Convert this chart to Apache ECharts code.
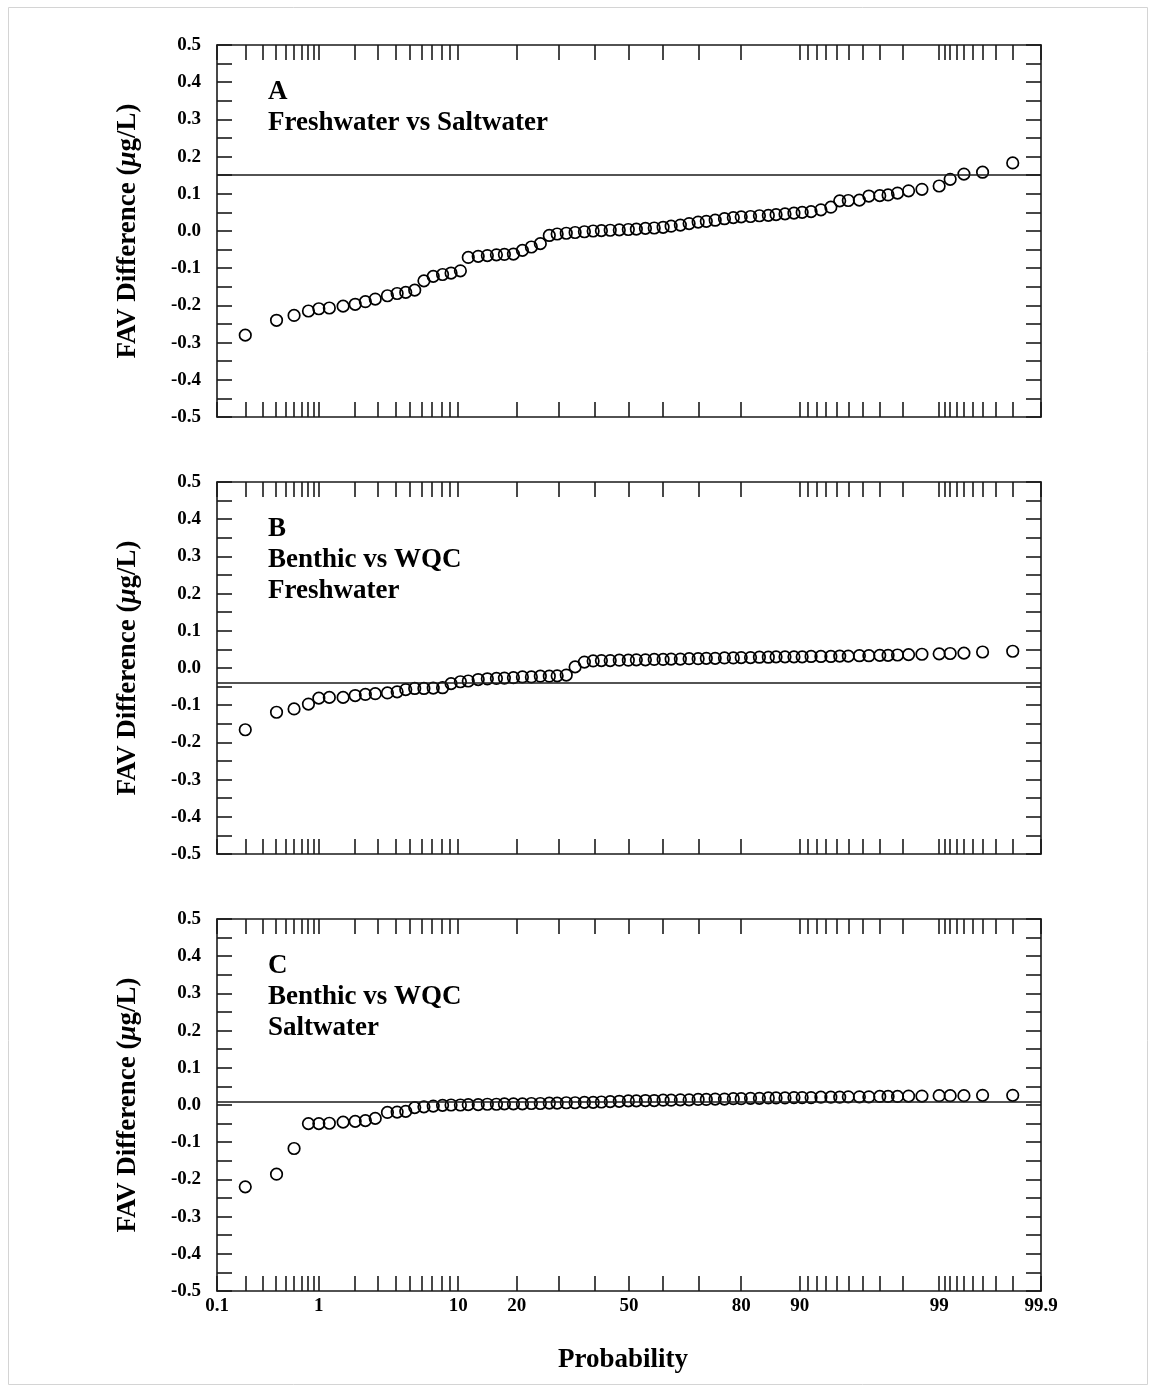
<!DOCTYPE html>
<html>
<head>
<meta charset="utf-8">
<script src="https://cdn.jsdelivr.net/npm/echarts@6/dist/echarts.min.js"></script>
<style>
html,body{margin:0;padding:0;background:#fff;}
#chart{width:1154px;height:1391px;}
</style>
</head>
<body>
<div id="chart"></div>
<script>
// ---- data ----
const probability = [0.20, 0.41, 0.60, 0.81, 1.0, 1.23, 1.6, 2.0, 2.4, 2.85,
  3.5, 4.1, 4.7, 5.4, 6.2, 7.1, 8.1, 9.1, 10.3, 11.4,
  12.9, 14.4, 16.0, 17.5, 19.3, 21.2, 23.2, 25.3, 27.5, 29.5,
  31.9, 34.3, 36.9, 39.4, 41.8, 44.4, 47.1, 49.8, 52.2, 54.9,
  57.5, 60.1, 62.4, 65.0, 67.4, 69.8, 71.9, 74.1, 76.3, 78.3,
  80.0, 81.9, 83.6, 85.2, 86.5, 87.9, 89.2, 90.3, 91.4, 92.5,
  93.5, 94.3, 95.0, 95.8, 96.4, 97.0, 97.4, 97.8, 98.2, 98.6,
  99.0, 99.2, 99.4, 99.6, 99.8];

const diffA = [-0.280, -0.240, -0.227, -0.215, -0.209, -0.207, -0.202, -0.197, -0.190, -0.183,
  -0.174, -0.168, -0.165, -0.159, -0.134, -0.122, -0.117, -0.113, -0.107, -0.071,
  -0.068, -0.066, -0.064, -0.063, -0.062, -0.052, -0.043, -0.034, -0.012, -0.008,
  -0.006, -0.004, -0.002, 0.000, 0.001, 0.002, 0.003, 0.004, 0.005, 0.007,
  0.008, 0.010, 0.013, 0.016, 0.020, 0.024, 0.026, 0.029, 0.033, 0.036,
  0.038, 0.039, 0.041, 0.042, 0.044, 0.046, 0.048, 0.050, 0.052, 0.057,
  0.064, 0.081, 0.082, 0.083, 0.094, 0.095, 0.097, 0.102, 0.108, 0.112,
  0.121, 0.139, 0.153, 0.158, 0.183];

const diffB = [-0.166, -0.119, -0.110, -0.097, -0.081, -0.079, -0.079, -0.074, -0.071, -0.069,
  -0.067, -0.064, -0.058, -0.055, -0.055, -0.054, -0.053, -0.042, -0.037, -0.035,
  -0.031, -0.029, -0.028, -0.027, -0.026, -0.024, -0.024, -0.022, -0.022, -0.021,
  -0.019, 0.003, 0.016, 0.019, 0.020, 0.020, 0.021, 0.021, 0.022, 0.022,
  0.023, 0.023, 0.024, 0.024, 0.025, 0.025, 0.026, 0.026, 0.027, 0.027,
  0.028, 0.028, 0.029, 0.029, 0.030, 0.030, 0.030, 0.030, 0.031, 0.031,
  0.031, 0.032, 0.032, 0.033, 0.033, 0.034, 0.034, 0.035, 0.036, 0.037,
  0.038, 0.039, 0.040, 0.043, 0.045];

const diffC = [-0.220, -0.186, -0.117, -0.050, -0.050, -0.049, -0.046, -0.044, -0.042, -0.036,
  -0.020, -0.019, -0.017, -0.007, -0.005, -0.003, -0.001, 0.000, 0.000, 0.001,
  0.001, 0.002, 0.002, 0.003, 0.003, 0.003, 0.004, 0.004, 0.005, 0.005,
  0.006, 0.006, 0.007, 0.007, 0.008, 0.009, 0.010, 0.011, 0.011, 0.012,
  0.012, 0.013, 0.013, 0.014, 0.014, 0.015, 0.015, 0.016, 0.016, 0.017,
  0.017, 0.018, 0.018, 0.019, 0.019, 0.019, 0.020, 0.020, 0.020, 0.021,
  0.021, 0.021, 0.022, 0.022, 0.022, 0.023, 0.023, 0.023, 0.024, 0.024,
  0.025, 0.025, 0.025, 0.026, 0.026];

const refLines = [0.15, -0.038, 0.013];
const panelLetters = ['A', 'B', 'C'];
const panelSubtitles = [['Freshwater vs Saltwater'], ['Benthic vs WQC', 'Freshwater'], ['Benthic vs WQC', 'Saltwater']];

const tickProbs = [0.2, 0.3, 0.4, 0.5, 0.6, 0.7, 0.8, 0.9, 1, 2, 3, 4, 5, 6, 7, 8, 9, 10,
  20, 30, 40, 50, 60, 70, 80, 90, 91, 92, 93, 94, 95, 96, 97, 98, 99,
  99.1, 99.2, 99.3, 99.4, 99.5, 99.6, 99.7, 99.8];
const labelProbs = [0.1, 1, 10, 20, 50, 80, 90, 99, 99.9];
const probRange = [0.1, 99.9];
const yTickLabels = ['-0.5', '-0.4', '-0.3', '-0.2', '-0.1', '0.0', '0.1', '0.2', '0.3', '0.4', '0.5'];

// ---- normal probability scale (probit) ----
function invNorm(p) {
  const a = [-3.969683028665376e+01, 2.209460984245205e+02, -2.759285104469687e+02, 1.383577518672690e+02, -3.066479806614716e+01, 2.506628277459239e+00];
  const b = [-5.447609879822406e+01, 1.615858368580409e+02, -1.556989798598866e+02, 6.680131188771972e+01, -1.328068155288572e+01];
  const c = [-7.784894002430293e-03, -3.223964580411365e-01, -2.400758277161838e+00, -2.549732539343734e+00, 4.374664141464968e+00, 2.938163982698783e+00];
  const d = [7.784695709041462e-03, 3.224671290700398e-01, 2.445134137142996e+00, 3.754408661907416e+00];
  const pl = 0.02425, ph = 1 - pl;
  let q, r;
  if (p < pl) {
    q = Math.sqrt(-2 * Math.log(p));
    return (((((c[0]*q+c[1])*q+c[2])*q+c[3])*q+c[4])*q+c[5]) / ((((d[0]*q+d[1])*q+d[2])*q+d[3])*q+1);
  }
  if (p <= ph) {
    q = p - 0.5; r = q * q;
    return (((((a[0]*r+a[1])*r+a[2])*r+a[3])*r+a[4])*r+a[5])*q / (((((b[0]*r+b[1])*r+b[2])*r+b[3])*r+b[4])*r+1);
  }
  q = Math.sqrt(-2 * Math.log(1 - p));
  return -(((((c[0]*q+c[1])*q+c[2])*q+c[3])*q+c[4])*q+c[5]) / ((((d[0]*q+d[1])*q+d[2])*q+d[3])*q+1);
}
const Z = p => invNorm(p / 100);

const zMin = Z(probRange[0]), zMax = Z(probRange[1]);
const tickZ = [zMin].concat(tickProbs.map(Z)).concat([zMax]);
const labelZ = labelProbs.map(Z);

const SERIF = "'Liberation Serif', 'Times New Roman', serif";
const AXIS_COLOR = '#1a1a1a';
const lineStyle = { color: AXIS_COLOR, width: 1.6 };

const gridLeft = 217, gridWidth = 824, gridHeight = 372;
const gridTops = [45, 482, 919];
const panels = [diffA, diffB, diffC];

const grids = [], xAxes = [], yAxes = [], series = [], graphics = [];

gridTops.forEach((top, i) => {
  grids.push({ left: gridLeft, top: top, width: gridWidth, height: gridHeight, containLabel: false });
  const xBase = {
    gridIndex: i, type: 'value', min: zMin, max: zMax,
    axisLine: { show: true, onZero: false, lineStyle },
    axisTick: { show: true, inside: true, length: 15, customValues: tickZ, lineStyle },
    splitLine: { show: false }
  };
  xAxes.push(Object.assign({}, xBase, {
    position: 'bottom',
    axisLabel: {
      show: i === 2, customValues: labelZ, margin: 6,
      showMinLabel: true, showMaxLabel: true,
      fontFamily: SERIF, fontWeight: 'bold', fontSize: 19, color: '#000',
      formatter: v => {
        let best = labelProbs[0], bd = Infinity;
        labelProbs.forEach(p => { const dd = Math.abs(Z(p) - v); if (dd < bd) { bd = dd; best = p; } });
        return String(best);
      }
    }
  }));
  xAxes.push(Object.assign({}, xBase, { position: 'top', axisLabel: { show: false } }));

  const yBase = {
    gridIndex: i, type: 'value', min: -0.5, max: 0.5, interval: 0.05,
    axisLine: { show: true, onZero: false, lineStyle },
    axisTick: { show: true, inside: true, length: 15, lineStyle },
    splitLine: { show: false }
  };
  yAxes.push(Object.assign({}, yBase, {
    position: 'left',
    axisLabel: {
      show: true, margin: 16, showMinLabel: true, showMaxLabel: true,
      fontFamily: SERIF, fontWeight: 'bold', fontSize: 19, color: '#000',
      formatter: v => {
        const k = Math.round(v * 100);
        if (k % 10 !== 0) return '';
        return yTickLabels[(k + 50) / 10];
      }
    }
  }));
  yAxes.push(Object.assign({}, yBase, { position: 'right', axisLabel: { show: false } }));

  series.push({
    type: 'scatter',
    xAxisIndex: i * 2, yAxisIndex: i * 2,
    symbol: 'circle', symbolSize: 11.5,
    itemStyle: { color: 'rgba(255,255,255,0)', borderColor: '#000', borderWidth: 1.7, opacity: 1 },
    data: probability.map((p, k) => [Z(p), panels[i][k]]),
    markLine: {
      silent: true, symbol: 'none', animation: false,
      label: { show: false },
      lineStyle: { color: AXIS_COLOR, type: 'solid', width: 1.6 },
      data: [{ yAxis: refLines[i] }]
    },
    z: 3
  });

  // y axis title
  graphics.push({
    type: 'text', x: 128, y: top + gridHeight / 2, rotation: Math.PI / 2,
    style: {
      text: 'FAV Difference ({i|μ}g/L)', align: 'center', verticalAlign: 'middle',
      fontFamily: SERIF, fontWeight: 'bold', fontSize: 27, fill: '#000',
      rich: { i: { fontFamily: SERIF, fontStyle: 'italic', fontWeight: 'bold', fontSize: 27, fill: '#000' } }
    }
  });
  // panel annotations
  const lines = [panelLetters[i]].concat(panelSubtitles[i]);
  lines.forEach((t, j) => {
    graphics.push({
      type: 'text', x: 268, y: top + 47 + j * 31,
      style: { text: t, align: 'left', verticalAlign: 'middle', fontFamily: SERIF, fontWeight: 'bold', fontSize: 27, fill: '#000' }
    });
  });
});

graphics.push({
  type: 'text', x: 623, y: 1360,
  style: { text: 'Probability', align: 'center', verticalAlign: 'middle', fontFamily: SERIF, fontWeight: 'bold', fontSize: 27, fill: '#000' }
});
graphics.push({
  type: 'rect', z: -1, silent: true,
  shape: { x: 8.5, y: 7.5, width: 1139, height: 1377 },
  style: { fill: 'none', stroke: '#d4d4d4', lineWidth: 1 }
});

const chart = echarts.init(document.getElementById('chart'), null, { renderer: 'canvas' });
chart.setOption({
  animation: false,
  backgroundColor: '#fff',
  grid: grids,
  xAxis: xAxes,
  yAxis: yAxes,
  series: series,
  graphic: graphics
});
</script>
</body>
</html>
